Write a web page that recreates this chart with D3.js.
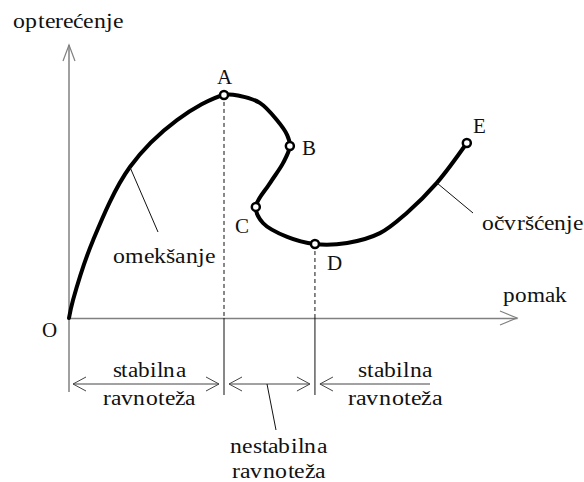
<!DOCTYPE html>
<html><head><meta charset="utf-8">
<script src="https://cdn.jsdelivr.net/npm/d3@7"></script>
<style>
@font-face{font-family:"RefSerif";src:local("Liberation Serif"),local("LiberationSerif"),local("LiberationSerif-Regular"),local("Times New Roman"),local("TimesNewRomanPSMT"),local("DejaVu Serif"),local("DejaVuSerif"),local("Noto Serif"),local("NotoSerif-Regular");}
body{margin:0;background:#fff}svg{display:block}svg text{font-family:"RefSerif","Liberation Serif","Times New Roman","DejaVu Serif",serif;font-size:21px}</style>
</head><body><svg id="c" width="584" height="482"></svg>
<script>
// load–displacement curve (displacement 0..100, load 0..100)
const curveX = [0, 0.9, 5.4, 13.6, 24.1, 34.6, 38.2, 42.6, 46.4, 48.7, 49.3, 47.8, 44.9, 41.7, 43.3, 48.7, 54.9, 62.1, 69.4, 75.4, 82.1, 88.8];
const curveY = [0, 6.6, 28.6, 55.3, 72.5, 81.7, 81.3, 78.8, 72.5, 67.0, 63.0, 56.8, 49.5, 40.7, 34.8, 29.7, 27.1, 27.5, 31.1, 38.5, 49.5, 64.1];
const pointNames = ["A", "B", "C", "D", "E"];
const pointX = [34.6, 49.3, 41.7, 54.9, 88.8];
const pointY = [81.7, 63.0, 40.7, 27.1, 64.1];
const axisLabels = ["opterećenje", "pomak", "O"];
const zoneLabels = [["stabilna", "ravnoteža"], ["nestabilna", "ravnoteža"], ["stabilna", "ravnoteža"]];
const curveLabels = ["omekšanje", "očvršćenje"];

const svg = d3.select("#c");
const x = d3.scaleLinear().domain([0, 100]).range([69, 517]);
const y = d3.scaleLinear().domain([0, 100]).range([318, 45]);
const axisCol = "#808080";

// target widths are expressed relative to the font size
function fit(sel, wEm) { sel.attr("textLength", wEm * 21).attr("lengthAdjust", "spacingAndGlyphs"); return sel; }
function label(t, px, py, anchor, wEm) { const s = svg.append("text").attr("x", px).attr("y", py).attr("fill", "#111").attr("text-anchor", anchor || "start").text(t); if (wEm) fit(s, wEm); return s; }

// axes
const gx = svg.append("g").attr("transform", `translate(0,${y(0)})`)
  .call(d3.axisBottom(x).tickValues([]).tickSizeOuter(0));
gx.select(".domain").attr("stroke", axisCol).attr("stroke-width", 1.5);
svg.append("line").attr("x1", x(0)).attr("x2", x(0)).attr("y1", 392).attr("y2", y(100)).attr("stroke", axisCol).attr("stroke-width", 1.5);
svg.append("polyline").attr("points", `${x(100)-17},${y(0)-7} ${x(100)},${y(0)} ${x(100)-17},${y(0)+7}`).attr("fill", "none").attr("stroke", axisCol).attr("stroke-width", 1.2);
svg.append("polyline").attr("points", `${x(0)-6},${y(100)+16} ${x(0)},${y(100)} ${x(0)+6},${y(100)+16}`).attr("fill", "none").attr("stroke", axisCol).attr("stroke-width", 1.2);

// vertical lines at A and D
[0, 3].forEach(i => {
  const px = x(pointX[i]);
  svg.append("line").attr("x1", px).attr("x2", px).attr("y1", y(pointY[i])).attr("y2", y(0)).attr("stroke", "#111").attr("stroke-width", 1).attr("stroke-dasharray", "4,3");
  svg.append("line").attr("x1", px).attr("x2", px).attr("y1", y(0)).attr("y2", 395).attr("stroke", "#111").attr("stroke-width", 1);
});

// curve
const line = d3.line().x(d => x(d[0])).y(d => y(d[1])).curve(d3.curveCatmullRom.alpha(0.5));
svg.append("path").attr("d", line(d3.zip(curveX, curveY))).attr("fill", "none").attr("stroke", "#000").attr("stroke-width", 4).attr("stroke-linecap", "round").attr("stroke-linejoin", "round");

// points
pointNames.forEach((n, i) => {
  svg.append("circle").attr("cx", x(pointX[i])).attr("cy", y(pointY[i])).attr("r", 4).attr("fill", "#fff").attr("stroke", "#000").attr("stroke-width", 2.5);
});
const lp = [[0, 84, "middle"], [12, 155, "start"], [-21, 233, "start"], [12, 270, "start"], [6, 133, "start"]];
pointNames.forEach((n, i) => label(n, x(pointX[i]) + lp[i][0], lp[i][1], lp[i][2]));

// axis labels
label(axisLabels[0], 13, 28, "start", 110 / 21);
label(axisLabels[1], 503, 302, "start", 64 / 21);
label(axisLabels[2], 42, 337, "start");

// curve annotations
svg.append("line").attr("x1", x(13.6)).attr("y1", y(55.3)).attr("x2", 158).attr("y2", 232).attr("stroke", "#111").attr("stroke-width", 1);
label(curveLabels[0], 113, 263, "start", 102 / 21);
svg.append("line").attr("x1", x(82.1)).attr("y1", y(49.5)).attr("x2", 473).attr("y2", 213).attr("stroke", "#111").attr("stroke-width", 1);
label(curveLabels[1], 482, 230, "start", 101 / 21);

// zone arrows
const ay = 384, arrCol = "#444";
const xO = x(0), xA = x(pointX[0]), xD = x(pointX[3]);
function head(px, dir) { svg.append("polyline").attr("points", `${px + dir*13},${ay-7} ${px},${ay} ${px + dir*13},${ay+7}`).attr("fill", "none").attr("stroke", arrCol).attr("stroke-width", 1); }
function hline(a, b) { svg.append("line").attr("x1", a).attr("x2", b).attr("y1", ay).attr("y2", ay).attr("stroke", arrCol).attr("stroke-width", 1); }
hline(xO + 4, xA - 5); head(xO + 4, 1); head(xA - 5, -1);
hline(xA + 5, xD - 5); head(xA + 5, 1); head(xD - 5, -1);
hline(xD + 5, 430); head(xD + 5, 1);
svg.append("line").attr("x1", 267).attr("y1", ay).attr("x2", 276).attr("y2", 430).attr("stroke", "#111").attr("stroke-width", 1);

label(zoneLabels[0][0], 149, 377, "middle", 73 / 21);
label(zoneLabels[0][1], 149, 405, "middle", 92 / 21);
label(zoneLabels[1][0], 278.5, 453, "middle", 97 / 21);
label(zoneLabels[1][1], 278.5, 478, "middle", 93 / 21);
label(zoneLabels[2][0], 395, 377, "middle", 74 / 21);
label(zoneLabels[2][1], 395, 405, "middle", 94 / 21);
</script></body></html>
